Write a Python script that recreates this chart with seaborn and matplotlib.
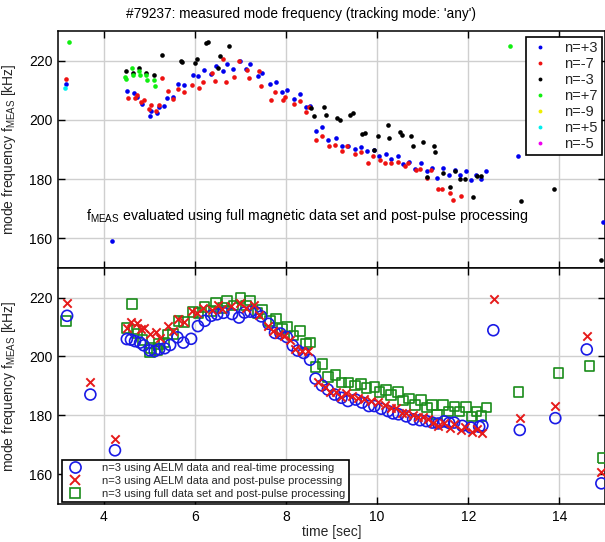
import numpy as np
import pandas as pd
import matplotlib
matplotlib.use("Agg")
import matplotlib.pyplot as plt
from matplotlib.lines import Line2D
import seaborn as sns

# ---------------- data (top panel: f_MEAS by mode number) ----------------
n_p3_t = [3.18, 4.18, 4.52, 4.67, 4.74, 4.85, 5.02, 5.04, 5.17, 5.21, 5.33, 5.40, 5.52, 5.64, 5.76,
          5.96, 6.08, 6.21, 6.36, 6.47, 6.61, 6.71, 6.85, 7.00, 7.12, 7.21, 7.38, 7.48, 7.65, 7.78,
          7.92, 8.02, 8.17, 8.31, 8.44, 8.53, 8.65, 8.80, 8.93, 9.09, 9.22, 9.37, 9.51, 9.65, 9.77,
          9.94, 10.05, 10.20, 10.31, 10.46, 10.57, 10.70, 10.83, 10.97, 11.09, 11.20, 11.32, 11.45,
          11.57, 11.70, 11.81, 11.95, 12.07, 12.18, 12.29, 12.40, 13.10, 14.96]
n_p3_f = [212.1, 159.0, 209.6, 209.1, 207.8, 205.5, 201.4, 202.9, 202.3, 204.3, 204.7, 207.4, 207.6,
          212.1, 211.7, 215.0, 214.8, 216.8, 215.5, 218.3, 216.4, 218.8, 217.3, 219.9, 217.3, 219.0,
          214.7, 215.9, 212.1, 212.9, 209.3, 210.1, 207.1, 208.6, 204.3, 204.7, 196.4, 197.5, 193.1,
          193.8, 191.2, 191.2, 190.2, 190.7, 189.4, 189.7, 187.9, 188.6, 186.9, 187.9, 185.1, 185.8,
          183.5, 185.3, 182.7, 183.6, 180.4, 183.6, 181.4, 183.1, 181.3, 182.8, 179.7, 181.3, 179.9,
          182.7, 187.9, 165.6]

n_m7_t = [3.18, 4.53, 4.68, 4.74, 4.83, 4.89, 4.99, 5.04, 5.15, 5.22, 5.29, 5.42, 5.52, 5.64, 5.77,
          5.94, 6.10, 6.19, 6.38, 6.44, 6.63, 6.68, 6.86, 6.96, 7.14, 7.19, 7.41, 7.46, 7.68, 7.76,
          7.93, 7.98, 8.17, 8.30, 8.45, 8.50, 8.67, 8.79, 8.94, 9.08, 9.23, 9.34, 9.51, 9.65, 9.79,
          9.92, 10.06, 10.18, 10.31, 10.45, 10.61, 10.68, 10.86, 10.94, 11.10, 11.19, 11.33, 11.42,
          11.60, 11.66, 11.84]
n_m7_f = [213.7, 207.4, 207.3, 208.4, 205.9, 206.8, 203.7, 205.1, 202.9, 205.1, 214.0, 209.8, 207.2,
          210.3, 209.4, 211.7, 210.9, 212.8, 215.7, 213.1, 220.6, 212.7, 214.4, 220.0, 217.0, 214.3,
          216.6, 211.6, 206.7, 209.3, 206.6, 207.6, 205.5, 206.4, 202.8, 204.3, 193.1, 194.7, 191.2,
          191.5, 189.6, 191.2, 188.4, 189.3, 185.4, 187.7, 186.3, 185.3, 185.3, 185.8, 184.4, 185.3,
          183.2, 183.5, 180.5, 183.1, 176.5, 176.5, 175.2, 172.9, 174.2]

n_m3_t = [4.49, 4.64, 4.78, 4.93, 5.10, 5.29, 5.70, 5.72, 6.01, 6.04, 6.25, 6.30, 6.52, 6.56, 6.75,
          8.56, 8.62, 8.83, 8.88, 9.12, 9.19, 9.41, 9.47, 9.68, 9.73, 9.94, 10.02, 10.23, 10.27, 10.50,
          10.54, 10.74, 10.78, 11.00, 11.09, 11.24, 11.28, 11.44, 11.60, 11.70, 11.82, 11.93, 12.10,
          12.19, 12.29, 13.16, 13.88, 14.91]
n_m3_f = [216.4, 215.7, 217.4, 215.7, 215.0, 221.8, 220.0, 219.5, 219.2, 220.5, 226.1, 226.3, 217.4,
          221.7, 225.0, 204.1, 201.4, 204.3, 201.8, 200.7, 200.0, 201.8, 202.2, 195.3, 195.7, 189.8,
          194.7, 198.4, 193.8, 195.9, 194.8, 194.7, 191.1, 192.4, 180.8, 191.1, 189.0, 182.2, 177.2,
          182.8, 179.9, 180.1, 174.1, 181.1, 181.1, 172.7, 176.5, 152.7]

n_p7_t = [3.24, 4.47, 4.50, 4.63, 4.65, 4.77, 4.80, 4.94, 4.95, 5.10, 5.12, 12.91]
n_p7_f = [226.3, 214.4, 213.9, 217.5, 215.2, 216.6, 215.0, 215.3, 213.5, 213.5, 211.6, 224.8]

n_m9_t, n_m9_f = [], []
n_p5_t, n_p5_f = [3.16], [210.9]
n_m5_t, n_m5_f = [], []

mode_labels = ["n=+3", "n=-7", "n=-3", "n=+7", "n=-9", "n=+5", "n=-5"]
mode_colors = ["#0000ee", "#ee1111", "#000000", "#11ee11", "#eeee00", "#00eeee", "#ee00ee"]

# ---------------- data (bottom panel: n=3 comparison) ----------------
rt_t = [3.20, 3.71, 4.25, 4.51, 4.60, 4.69, 4.80, 4.88, 5.01, 5.12, 5.22, 5.34, 5.46, 5.62, 5.75,
        5.92, 6.07, 6.22, 6.36, 6.49, 6.63, 6.82, 6.97, 7.09, 7.22, 7.34, 7.46, 7.62, 7.76, 7.88,
        8.02, 8.15, 8.26, 8.39, 8.53, 8.65, 8.79, 8.92, 9.07, 9.22, 9.36, 9.53, 9.67, 9.82, 9.94,
        10.09, 10.24, 10.35, 10.47, 10.64, 10.79, 10.94, 11.08, 11.21, 11.34, 11.47, 11.58, 11.69,
        11.87, 12.06, 12.24, 12.31, 12.55, 13.13, 13.91, 14.60, 14.92]
rt_f = [213.8, 187.1, 168.2, 205.9, 205.7, 205.2, 204.7, 203.8, 202.1, 201.8, 202.5, 202.8, 203.9,
        206.5, 204.7, 206.0, 210.3, 212.1, 213.8, 214.3, 214.8, 214.4, 213.2, 214.9, 215.2, 215.0,
        213.6, 211.1, 208.0, 207.8, 206.6, 203.7, 202.0, 201.2, 198.9, 192.5, 190.2, 188.8, 187.1,
        186.0, 184.9, 185.4, 184.4, 183.2, 183.2, 182.3, 181.5, 180.7, 180.4, 179.7, 178.7, 178.4,
        178.1, 177.6, 177.3, 178.0, 177.5, 177.6, 176.5, 175.9, 176.2, 176.6, 208.9, 175.1, 179.1,
        202.4, 157.0]

pp_t = [3.20, 3.71, 4.25, 4.52, 4.60, 4.73, 4.81, 4.89, 5.02, 5.15, 5.24, 5.41, 5.52, 5.64, 5.77,
        5.94, 6.04, 6.19, 6.37, 6.50, 6.60, 6.80, 6.99, 7.12, 7.30, 7.40, 7.60, 7.71, 7.85, 7.95,
        8.10, 8.20, 8.35, 8.48, 8.70, 8.85, 8.97, 9.10, 9.21, 9.32, 9.45, 9.58, 9.72, 9.87, 10.02,
        10.17, 10.30, 10.42, 10.55, 10.64, 10.78, 10.90, 11.00, 11.12, 11.22, 11.34, 11.47, 11.60,
        11.69, 11.84, 11.93, 12.09, 12.20, 12.31, 12.57, 13.13, 13.91, 14.60, 14.92]
pp_f = [218.1, 191.3, 172.1, 209.8, 211.8, 211.2, 209.4, 209.7, 207.6, 208.4, 206.4, 210.3, 208.7,
        212.7, 211.8, 215.5, 214.7, 216.6, 215.7, 217.5, 216.2, 217.0, 218.1, 216.4, 217.5, 214.1,
        210.5, 208.7, 207.5, 206.8, 205.5, 202.7, 202.0, 201.8, 191.3, 189.5, 187.9, 188.0, 186.2,
        187.7, 186.5, 186.0, 185.5, 184.9, 184.5, 183.7, 182.5, 182.6, 181.0, 180.7, 180.0, 179.6,
        179.5, 178.7, 177.5, 176.3, 177.3, 175.8, 177.1, 175.1, 176.2, 174.5, 175.3, 173.9, 219.4,
        179.1, 183.3, 206.8, 160.8]

full_t = n_p3_t[:3] + [4.62] + n_p3_t[3:-1] + [13.98, 14.66, 14.96]
full_f = n_p3_f[:3] + [217.7] + n_p3_f[3:-1] + [194.5, 196.8, 165.6]

cmp_labels = ["n=3 using AELM data and real-time processing",
              "n=3 using AELM data and post-pulse processing",
              "n=3 using full data set and post-pulse processing"]

# ---------------- figure ----------------
sns.set_theme(style="ticks")
plt.rcParams["font.family"] = ["Liberation Sans", "DejaVu Sans"]
plt.rcParams["mathtext.fontset"] = "custom"
plt.rcParams["mathtext.rm"] = "Liberation Sans"

W, H = 605, 542
fig = plt.figure(figsize=(W / 100, H / 100), dpi=100)
fig.patch.set_facecolor("white")

def box(px_left, px_top, px_right, px_bottom):
    return [px_left / W, 1 - px_bottom / H, (px_right - px_left) / W, (px_bottom - px_top) / H]

ax1 = fig.add_axes(box(58, 31, 605, 268))
ax2 = fig.add_axes(box(58, 268, 605, 504))

def style_axes(ax):
    ax.set_xlim(3, 15)
    ax.set_ylim(150, 230)
    ax.set_xticks([4, 6, 8, 10, 12, 14])
    ax.set_yticks([160, 180, 200, 220])
    ax.grid(True, color="#cfcfcf", lw=1.0, ls="-")
    ax.set_axisbelow(True)
    ax.tick_params(direction="in", length=5, width=1, top=True, right=True,
                   labelsize=10, colors="black", pad=4)
    for s in ax.spines.values():
        s.set_color("black")
        s.set_linewidth(1.1)
    ax.set_facecolor("white")

style_axes(ax1)
style_axes(ax2)

# top panel
tops = [(n_p3_t, n_p3_f), (n_m7_t, n_m7_f), (n_m3_t, n_m3_f), (n_p7_t, n_p7_f),
        (n_m9_t, n_m9_f), (n_p5_t, n_p5_f), (n_m5_t, n_m5_f)]
for i, (t, f) in enumerate(tops):
    if len(t) == 0:
        continue
    df = pd.DataFrame({"t": t, "f": f})
    sns.scatterplot(data=df, x="t", y="f", ax=ax1, color=mode_colors[i], s=11,
                    linewidth=0, marker="o", legend=False, zorder=3)
ax1.set_xlabel("")
ax1.tick_params(labelbottom=False)
ax1.set_ylabel("mode frequency f$_\\mathregular{MEAS}$ [kHz]", fontsize=10, labelpad=8)
ax1.text(3.62, 166.3, "f$_\\mathregular{MEAS}$ evaluated using full magnetic data set and post-pulse processing",
         fontsize=10.2, ha="left", va="baseline", color="black")

h1 = [Line2D([], [], ls="none", marker="o", ms=2.8, mew=0, color=c) for c in mode_colors]
leg1 = ax1.legend(h1, mode_labels, loc="upper right", bbox_to_anchor=(0.9945, 0.975),
                  frameon=True, fancybox=False, framealpha=1, edgecolor="black",
                  fontsize=10.5, labelspacing=0.13, handlelength=1.3, handletextpad=1.0,
                  borderpad=0.3, borderaxespad=0)
leg1.get_frame().set_linewidth(1.2)

# bottom panel
blue_c, red_c, green_c = "#1a1ae6", "#e61a1a", "#1a8c1a"
d_rt = pd.DataFrame({"t": rt_t, "f": rt_f})
d_pp = pd.DataFrame({"t": pp_t, "f": pp_f})
d_full = pd.DataFrame({"t": full_t, "f": full_f})
sns.scatterplot(data=d_full, x="t", y="f", ax=ax2, marker="s", s=48, facecolors="none",
                edgecolor=green_c, linewidth=1.2, legend=False, zorder=3)
sns.scatterplot(data=d_rt, x="t", y="f", ax=ax2, marker="o", s=62, facecolors="none",
                edgecolor=blue_c, linewidth=1.2, legend=False, zorder=4)
sns.scatterplot(data=d_pp, x="t", y="f", ax=ax2, marker="x", s=36, color=red_c,
                linewidth=1.4, legend=False, zorder=5)
ax2.set_xlabel("time [sec]", fontsize=10, labelpad=1)
ax2.set_ylabel("mode frequency f$_\\mathregular{MEAS}$ [kHz]", fontsize=10, labelpad=8)

h2 = [Line2D([], [], ls="none", marker="o", ms=8, mfc="none", mec=blue_c, mew=1.2),
      Line2D([], [], ls="none", marker="x", ms=6.5, color=red_c, mew=1.4),
      Line2D([], [], ls="none", marker="s", ms=7, mfc="none", mec=green_c, mew=1.2)]
leg2 = ax2.legend(h2, cmp_labels, loc="lower left", bbox_to_anchor=(0.0075, 0.008),
                  frameon=True, fancybox=False, framealpha=1, edgecolor="black",
                  fontsize=8, labelspacing=0.25, handlelength=1.8, handletextpad=1.5,
                  borderpad=0.3, borderaxespad=0)
leg2.get_frame().set_linewidth(1.2)

fig.text(301 / W, 1 - 14 / H, "#79237: measured mode frequency (tracking mode: 'any')",
         ha="center", va="center", fontsize=9.8, color="black")

fig.savefig("out.png", dpi=100, facecolor="white")
